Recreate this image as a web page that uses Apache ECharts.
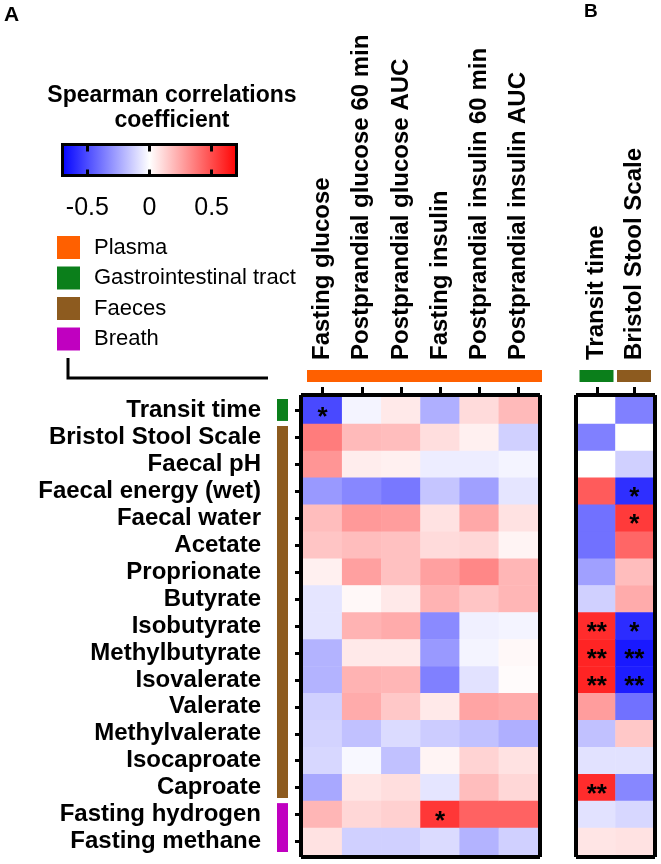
<!DOCTYPE html>
<html><head><meta charset="utf-8">
<script src="https://cdn.jsdelivr.net/npm/echarts@6/dist/echarts.min.js"></script>
<style>html,body{margin:0;padding:0;background:#fff}#c{width:661px;height:864px}</style>
</head><body><div id="c"></div>
<script>
// ---------- data ----------
const rowLabels = ['Transit time','Bristol Stool Scale','Faecal pH','Faecal energy (wet)','Faecal water','Acetate','Proprionate','Butyrate','Isobutyrate','Methylbutyrate','Isovalerate','Valerate','Methylvalerate','Isocaproate','Caproate','Fasting hydrogen','Fasting methane'];
const colLabelsA = ['Fasting glucose','Postprandial glucose 60 min','Postprandial glucose AUC','Fasting insulin','Postprandial insulin 60 min','Postprandial insulin AUC'];
const colLabelsB = ['Transit time','Bristol Stool Scale'];

const fastingGlucose = [-0.50,0.36,0.29,-0.28,0.18,0.16,0.04,-0.07,-0.07,-0.21,-0.21,-0.13,-0.12,-0.11,-0.24,0.20,0.08];
const ppGlucose60    = [-0.03,0.19,0.05,-0.33,0.28,0.18,0.26,0.02,0.21,0.06,0.21,0.23,-0.17,-0.02,0.07,0.11,-0.13];
const ppGlucoseAUC   = [0.06,0.18,0.04,-0.37,0.27,0.17,0.17,0.06,0.23,0.06,0.20,0.15,-0.10,-0.17,0.09,0.13,-0.13];
const fastingInsulin = [-0.22,0.09,-0.05,-0.16,0.08,0.10,0.26,0.21,-0.32,-0.28,-0.35,0.06,-0.14,0.03,-0.07,0.55,-0.10];
const ppInsulin60    = [0.10,0.04,-0.05,-0.26,0.24,0.11,0.33,0.16,-0.04,-0.03,-0.08,0.25,-0.17,0.12,0.18,0.43,-0.21];
const ppInsulinAUC   = [0.19,-0.13,-0.03,-0.07,0.08,0.03,0.20,0.20,-0.03,0.02,0.01,0.23,-0.22,0.08,0.11,0.43,-0.13];
const transitTime    = [0,-0.35,0,0.45,-0.39,-0.39,-0.26,-0.13,0.58,0.60,0.60,0.27,-0.17,-0.08,0.58,-0.08,0.07];
const bristolScale   = [-0.35,0,-0.13,-0.57,0.54,0.42,0.18,0.23,-0.58,-0.63,-0.62,-0.39,0.15,-0.08,-0.33,-0.11,0.08];

// significance marks: [row, col, mark]
const starsA = [[0,0,'*'],[15,3,'*']];
const starsB = [[8,0,'**'],[9,0,'**'],[10,0,'**'],[14,0,'**'],[3,1,'*'],[4,1,'*'],[8,1,'*'],[9,1,'**'],[10,1,'**']];

const scaleMin = -0.7, scaleMax = 0.7;
const scaleTicks = [-0.5, 0, 0.5];

const groupNames  = ['Plasma','Gastrointestinal tract','Faeces','Breath'];
const groupColors = ['#ff6000','#0b7f1b','#8d5b1f','#c000c0'];
const rowGroups   = ['Gastrointestinal tract','Faeces','Faeces','Faeces','Faeces','Faeces','Faeces','Faeces','Faeces','Faeces','Faeces','Faeces','Faeces','Faeces','Faeces','Breath','Breath'];
const colGroupsA  = ['Plasma','Plasma','Plasma','Plasma','Plasma','Plasma'];
const colGroupsB  = ['Gastrointestinal tract','Faeces'];

// ---------- build ----------
const FONT = '"Liberation Sans", Arial, sans-serif';
const valuesA = [fastingGlucose, ppGlucose60, ppGlucoseAUC, fastingInsulin, ppInsulin60, ppInsulinAUC];
const valuesB = [transitTime, bristolScale];

function buildHeat(cols, stars){
  const d = [];
  cols.forEach((col, c) => col.forEach((v, r) => {
    const st = stars.find(s => s[0] === r && s[1] === c);
    d.push([c, r, v, st ? st[2] : '']);
  }));
  return d;
}
function runs(arr){
  const out = [];
  arr.forEach((g, i) => {
    const last = out[out.length - 1];
    if (last && last.g === g && last.e === i - 1) last.e = i; else out.push({g, s: i, e: i});
  });
  return out;
}
function rowBarRender(params, api){
  const s = api.value(0), e = api.value(1);
  const cs = params.coordSys;
  const p0 = api.coord([0, s]), p1 = api.coord([0, e]);
  const h = api.size([0, 1])[1];
  const top = Math.min(p0[1], p1[1]) - h / 2 + 2;
  const bot = Math.max(p0[1], p1[1]) + h / 2 - 3;
  return {type: 'rect', shape: {x: cs.x - 26, y: top, width: 11, height: bot - top}, style: {fill: api.visual('color')}};
}
function colBarRender(dx0, dx1){
  return function(params, api){
    const s = api.value(0), e = api.value(1);
    const cs = params.coordSys;
    const p0 = api.coord([s, 0]), p1 = api.coord([e, 0]);
    const w = api.size([1, 0])[0];
    const x0 = Math.min(p0[0], p1[0]) - w / 2 + dx0;
    const x1 = Math.max(p0[0], p1[0]) + w / 2 + dx1;
    return {type: 'rect', shape: {x: x0, y: cs.y - 27, width: x1 - x0, height: 12}, style: {fill: api.visual('color')}};
  };
}

const heatLabel = {show: true, formatter: p => p.data[3] || '', fontSize: 26, fontWeight: 'bold', color: '#000', offset: [0, 7], fontFamily: FONT};
const series = [
  {type: 'heatmap', xAxisIndex: 0, yAxisIndex: 0, data: buildHeat(valuesA, starsA), label: heatLabel, emphasis: {disabled: true}},
  {type: 'heatmap', xAxisIndex: 2, yAxisIndex: 2, data: buildHeat(valuesB, starsB), label: heatLabel, emphasis: {disabled: true}}
];
groupNames.forEach((name, gi) => {
  const color = groupColors[gi];
  const rr = runs(rowGroups).filter(r => r.g === name).map(r => [r.s, r.e]);
  if (rr.length) series.push({type: 'custom', name, silent: true, xAxisIndex: 0, yAxisIndex: 0, encode: {y: [0, 1]}, itemStyle: {color}, renderItem: rowBarRender, data: rr, clip: false, z: 5});
  const ca = runs(colGroupsA).filter(r => r.g === name).map(r => [r.s, r.e]);
  if (ca.length) series.push({type: 'custom', name, silent: true, xAxisIndex: 0, yAxisIndex: 0, encode: {x: [0, 1]}, itemStyle: {color}, renderItem: colBarRender(4, 4), data: ca, clip: false, z: 5});
  const cb = runs(colGroupsB).filter(r => r.g === name).map(r => [r.s, r.e]);
  if (cb.length) series.push({type: 'custom', name, silent: true, xAxisIndex: 2, yAxisIndex: 2, encode: {x: [0, 1]}, itemStyle: {color}, renderItem: colBarRender(1.5, -2), data: cb, clip: false, z: 5});
});

const frameLine = {lineStyle: {color: '#000', width: 4, cap: 'square'}};
const colLabelStyle = {rotate: -90, fontSize: 24, fontWeight: 'bold', color: '#000', margin: 35, interval: 0, fontFamily: FONT};
function catX(gridIndex, data, pos, labels){
  return {type: 'category', gridIndex, data, position: pos, offset: 2, z: 10,
    axisLine: frameLine,
    axisTick: labels ? {show: true, alignWithLabel: true, length: 8, lineStyle: {width: 3, color: '#000'}} : {show: false},
    axisLabel: labels ? colLabelStyle : {show: false}, splitLine: {show: false}};
}
function catY(gridIndex, data, pos, labels, ticks){
  return {type: 'category', gridIndex, data, position: pos, inverse: true, offset: 2, z: 10,
    axisLine: frameLine,
    axisTick: ticks ? {show: true, alignWithLabel: true, length: 6, lineStyle: {width: 3, color: '#000'}} : {show: false},
    axisLabel: labels ? {fontSize: 24, fontWeight: 'bold', color: '#000', margin: 40, interval: 0, fontFamily: FONT} : {show: false},
    splitLine: {show: false}};
}

const option = {
  animation: false,
  backgroundColor: '#fff',
  textStyle: {fontFamily: FONT},
  grid: [
    {left: 303, top: 397, width: 235, height: 458},
    {left: 578, top: 397, width: 75, height: 458},
    {left: 62.5, top: 144.5, width: 174, height: 31, show: true, borderColor: '#000', borderWidth: 3,
     backgroundColor: {type: 'linear', x: 0, y: 0, x2: 1, y2: 0, colorStops: [{offset: 0, color: '#0000ff'}, {offset: 0.5, color: '#ffffff'}, {offset: 1, color: '#ff0000'}]}}
  ],
  xAxis: [
    catX(0, colLabelsA, 'top', true),
    catX(0, colLabelsA, 'bottom', false),
    catX(1, colLabelsB, 'top', true),
    catX(1, colLabelsB, 'bottom', false),
    {type: 'value', gridIndex: 2, min: scaleMin, max: scaleMax, position: 'bottom', z: 10,
     axisLine: {show: false}, splitLine: {show: false},
     axisTick: {show: true, inside: true, length: 6, customValues: scaleTicks, lineStyle: {width: 3, color: '#000'}},
     axisLabel: {show: true, customValues: scaleTicks, fontSize: 25, color: '#000', margin: 20, fontFamily: FONT}},
    {type: 'value', gridIndex: 2, min: scaleMin, max: scaleMax, position: 'top', z: 10,
     axisLine: {show: false}, splitLine: {show: false},
     axisTick: {show: true, inside: true, length: 7, customValues: scaleTicks, lineStyle: {width: 3, color: '#000'}},
     axisLabel: {show: false}}
  ],
  yAxis: [
    catY(0, rowLabels, 'left', true, true),
    catY(0, rowLabels, 'right', false, false),
    catY(1, rowLabels, 'left', false, false),
    catY(1, rowLabels, 'right', false, false),
    {type: 'value', gridIndex: 2, show: false, min: 0, max: 1}
  ],
  visualMap: {type: 'continuous', show: false, min: scaleMin, max: scaleMax, dimension: 2, seriesIndex: [0, 1],
    inRange: {color: ['#0000ff', '#ffffff', '#ff0000']}},
  legend: {data: groupNames, left: 57, top: 236, orient: 'vertical', padding: 0, itemWidth: 23, itemHeight: 23, itemGap: 7.5,
    icon: 'rect', selectedMode: false,
    textStyle: {fontSize: 22, color: '#000', padding: [0, 0, 0, 9], fontFamily: FONT}},
  graphic: [
    {type: 'text', x: 4, y: 5, style: {text: 'A', fontSize: 21, fontWeight: 'bold', fontFamily: FONT, fill: '#000'}},
    {type: 'text', x: 584, y: 2, style: {text: 'B', fontSize: 19, fontWeight: 'bold', fontFamily: FONT, fill: '#000'}},
    {type: 'text', x: 172, y: 83, style: {text: 'Spearman correlations\ncoefficient', fontSize: 23, fontWeight: 'bold', lineHeight: 25,
      fontFamily: FONT, fill: '#000', align: 'center', verticalAlign: 'top'}},
    {type: 'polyline', shape: {points: [[68, 358], [68, 378], [268, 378]]}, style: {stroke: '#000', lineWidth: 3, fill: null}}
  ],
  series
};
const chart = echarts.init(document.getElementById('c'), null, {renderer: 'canvas'});
chart.setOption(option);
</script>
</body></html>
